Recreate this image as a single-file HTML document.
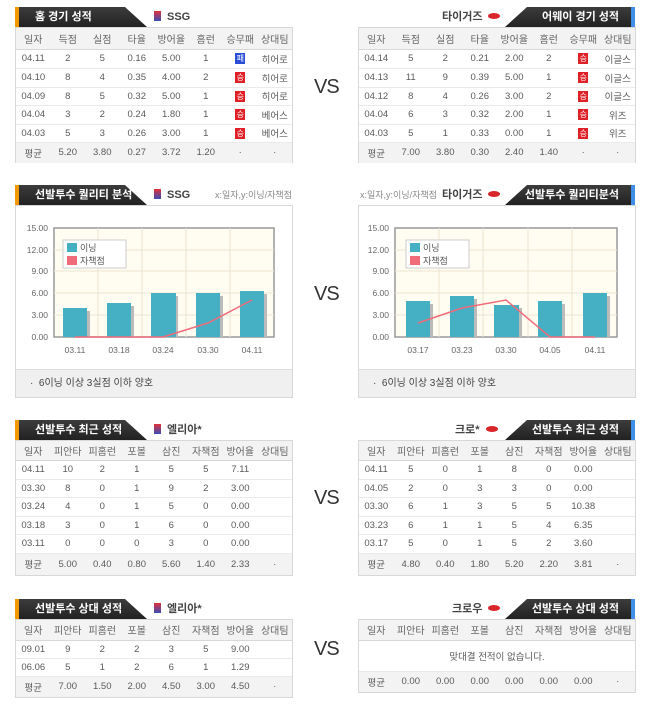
<!DOCTYPE html>
<html><head><meta charset="utf-8"><style>
*{margin:0;padding:0;box-sizing:border-box}
body{width:650px;height:716px;background:#fff;position:relative;font-family:"Liberation Sans","Noto Sans CJK KR",sans-serif;color:#444;overflow:hidden}
.tab{position:absolute;height:20px;background:linear-gradient(#3c3c3c,#222);color:#fff;font-size:11px;font-weight:bold;line-height:20px}
.tl{clip-path:polygon(0 0,calc(100% - 22px) 0,100% 100%,0 100%);border-left:4px solid #f39800;padding-left:16px}
.tr{clip-path:polygon(22px 0,100% 0,100% 100%,0 100%);border-right:4px solid #3f8fe8;text-align:right;padding-right:12px}
.team{position:absolute;font-size:11px;font-weight:bold;color:#444;line-height:20px}
.logo{display:inline-block;width:7px;height:10px;background:linear-gradient(#e0313a,#3a4db8);vertical-align:-1px;margin-right:6px}
.kia{display:inline-block;width:12px;height:6px;border-radius:50%;background:#d9262b;vertical-align:1px;margin-left:6px}
.box{position:absolute;border:1px solid #d8d8d8;background:#fff}
table{border-collapse:collapse;width:100%;table-layout:fixed;font-size:9.5px;color:#5a5a5a;text-align:center}
td{border-bottom:1px solid #eaeaea;white-space:nowrap;overflow:hidden}
tr.h td{background:#f3f3f3;border-bottom:1px solid #d8d8d8;font-size:10px;color:#666}
tr.a td{background:#f3f3f3;border-bottom:none}
.w{display:inline-block;width:10px;height:11px;background:#e02027;color:#fff;font-size:8px;line-height:11px}
.l{display:inline-block;width:10px;height:11px;background:#2a4fd6;color:#fff;font-size:8px;line-height:11px}
.vs{position:absolute;font-size:20px;color:#333;letter-spacing:-1px}
.foot{position:absolute;left:0;right:0;bottom:0;height:28px;background:#f0f0f0;border-top:1px solid #ddd;font-size:10px;line-height:28px;padding-left:14px;color:#444}
</style></head><body>

<div class="tab tl" style="left:15px;top:7px;width:132px">홈 경기 성적</div>
<div class="team" style="left:154px;top:7px"><span class="logo"></span>SSG</div>
<div class="box" style="left:15px;top:27px;width:278px;height:136px">
<table>
<tr class="h" style="height:21px"><td>일자</td><td>득점</td><td>실점</td><td>타율</td><td>방어율</td><td>홈런</td><td>승무패</td><td>상대팀</td></tr>
<tr style="height:19px"><td>04.11</td><td>2</td><td>5</td><td>0.16</td><td>5.00</td><td>1</td><td><span class="l">패</span></td><td>히어로</td></tr>
<tr style="height:19px"><td>04.10</td><td>8</td><td>4</td><td>0.35</td><td>4.00</td><td>2</td><td><span class="w">승</span></td><td>히어로</td></tr>
<tr style="height:18px"><td>04.09</td><td>8</td><td>5</td><td>0.32</td><td>5.00</td><td>1</td><td><span class="w">승</span></td><td>히어로</td></tr>
<tr style="height:19px"><td>04.04</td><td>3</td><td>2</td><td>0.24</td><td>1.80</td><td>1</td><td><span class="w">승</span></td><td>베어스</td></tr>
<tr style="height:18px"><td>04.03</td><td>5</td><td>3</td><td>0.26</td><td>3.00</td><td>1</td><td><span class="w">승</span></td><td>베어스</td></tr>
<tr class="a" style="height:21px"><td>평균</td><td>5.20</td><td>3.80</td><td>0.27</td><td>3.72</td><td>1.20</td><td>·</td><td>·</td></tr>
</table></div>
<div class="vs" style="left:314px;top:76px">VS</div>
<div class="tab tr" style="left:505px;top:7px;width:130px">어웨이 경기 성적</div>
<div class="team" style="left:442px;top:7px">타이거즈<span class="kia"></span></div>
<div class="box" style="left:358px;top:27px;width:278px;height:136px">
<table>
<tr class="h" style="height:21px"><td>일자</td><td>득점</td><td>실점</td><td>타율</td><td>방어율</td><td>홈런</td><td>승무패</td><td>상대팀</td></tr>
<tr style="height:19px"><td>04.14</td><td>5</td><td>2</td><td>0.21</td><td>2.00</td><td>2</td><td><span class="w">승</span></td><td>이글스</td></tr>
<tr style="height:19px"><td>04.13</td><td>11</td><td>9</td><td>0.39</td><td>5.00</td><td>1</td><td><span class="w">승</span></td><td>이글스</td></tr>
<tr style="height:18px"><td>04.12</td><td>8</td><td>4</td><td>0.26</td><td>3.00</td><td>2</td><td><span class="w">승</span></td><td>이글스</td></tr>
<tr style="height:19px"><td>04.04</td><td>6</td><td>3</td><td>0.32</td><td>2.00</td><td>1</td><td><span class="w">승</span></td><td>위즈</td></tr>
<tr style="height:18px"><td>04.03</td><td>5</td><td>1</td><td>0.33</td><td>0.00</td><td>1</td><td><span class="w">승</span></td><td>위즈</td></tr>
<tr class="a" style="height:21px"><td>평균</td><td>7.00</td><td>3.80</td><td>0.30</td><td>2.40</td><td>1.40</td><td>·</td><td>·</td></tr>
</table></div>

<div class="tab tl" style="left:15px;top:185px;width:132px">선발투수 퀄리티 분석</div>
<div class="team" style="left:154px;top:185px"><span class="logo"></span>SSG</div>
<div style="position:absolute;left:215px;top:185px;font-size:9px;color:#888;line-height:20px">x:일자,y:이닝/자책점</div>
<div class="box" style="left:15px;top:205px;width:278px;height:193px"><div class="foot">· &nbsp;6이닝 이상 3실점 이하 양호</div></div>
<svg style="position:absolute;left:0;top:200px" width="325" height="170">
<rect x="54" y="28" width="220" height="109" fill="#fffcf2" stroke="#999" stroke-width="1.5"/>
<g stroke="#eee4cf" stroke-width="1"><line x1="54" y1="50" x2="274" y2="50"/><line x1="54" y1="71" x2="274" y2="71"/><line x1="54" y1="93" x2="274" y2="93"/><line x1="54" y1="115" x2="274" y2="115"/><line x1="98" y1="28" x2="98" y2="137"/><line x1="142" y1="28" x2="142" y2="137"/><line x1="186" y1="28" x2="186" y2="137"/><line x1="230" y1="28" x2="230" y2="137"/></g>
<g fill="#bbb"><rect x="66" y="111" width="24" height="26"/><rect x="110" y="106" width="24" height="31"/><rect x="154" y="96" width="24" height="41"/><rect x="199" y="96" width="24" height="41"/><rect x="243" y="94" width="24" height="43"/></g>
<g fill="#45afc4"><rect x="63" y="108" width="24" height="29"/><rect x="107" y="103" width="24" height="34"/><rect x="151" y="93" width="25" height="44"/><rect x="196" y="93" width="24" height="44"/><rect x="240" y="91" width="24" height="46"/></g>
<polyline points="75,137 119,137 163,137 208,123 252,100" fill="none" stroke="#f06c7a" stroke-width="1.5"/>
<rect x="63" y="40" width="63" height="28" fill="#fff" stroke="#ccc"/>
<rect x="67" y="43" width="10" height="9" fill="#45afc4"/><rect x="67" y="56" width="10" height="9" fill="#f06c7a"/>
<text x="80" y="51" font-size="9" fill="#555">이닝</text><text x="80" y="64" font-size="9" fill="#555">자책점</text>
<g font-size="8.5" fill="#666" text-anchor="end"><text x="48" y="31">15.00</text><text x="48" y="53">12.00</text><text x="48" y="74">9.00</text><text x="48" y="96">6.00</text><text x="48" y="118">3.00</text><text x="48" y="140">0.00</text></g>
<g font-size="8.5" fill="#666" text-anchor="middle"><text x="75" y="153">03.11</text><text x="119" y="153">03.18</text><text x="163" y="153">03.24</text><text x="208" y="153">03.30</text><text x="252" y="153">04.11</text></g>
</svg>
<div class="vs" style="left:314px;top:283px">VS</div>
<div class="tab tr" style="left:505px;top:185px;width:130px">선발투수 퀄리티분석</div>
<div class="team" style="left:442px;top:185px">타이거즈<span class="kia"></span></div>
<div style="position:absolute;left:360px;top:185px;font-size:9px;color:#888;line-height:20px">x:일자,y:이닝/자책점</div>
<div class="box" style="left:358px;top:205px;width:278px;height:193px"><div class="foot">· &nbsp;6이닝 이상 3실점 이하 양호</div></div>
<svg style="position:absolute;left:325px;top:200px" width="325" height="170">
<rect x="70" y="28" width="222" height="109" fill="#fffcf2" stroke="#999" stroke-width="1.5"/>
<g stroke="#eee4cf" stroke-width="1"><line x1="70" y1="50" x2="292" y2="50"/><line x1="70" y1="71" x2="292" y2="71"/><line x1="70" y1="93" x2="292" y2="93"/><line x1="70" y1="115" x2="292" y2="115"/><line x1="114" y1="28" x2="114" y2="137"/><line x1="158" y1="28" x2="158" y2="137"/><line x1="203" y1="28" x2="203" y2="137"/><line x1="247" y1="28" x2="247" y2="137"/></g>
<g fill="#bbb"><rect x="84" y="104" width="24" height="33"/><rect x="128" y="99" width="24" height="38"/><rect x="172" y="108" width="25" height="29"/><rect x="216" y="104" width="24" height="33"/><rect x="261" y="96" width="24" height="41"/></g>
<g fill="#45afc4"><rect x="81" y="101" width="24" height="36"/><rect x="125" y="96" width="24" height="41"/><rect x="169" y="105" width="25" height="32"/><rect x="213" y="101" width="24" height="36"/><rect x="258" y="93" width="24" height="44"/></g>
<polyline points="93,123 137,108 181,100 225,137 270,137" fill="none" stroke="#f06c7a" stroke-width="1.5"/>
<rect x="81" y="40" width="63" height="28" fill="#fff" stroke="#ccc"/>
<rect x="85" y="43" width="10" height="9" fill="#45afc4"/><rect x="85" y="56" width="10" height="9" fill="#f06c7a"/>
<text x="98" y="51" font-size="9" fill="#555">이닝</text><text x="98" y="64" font-size="9" fill="#555">자책점</text>
<g font-size="8.5" fill="#666" text-anchor="end"><text x="64" y="31">15.00</text><text x="64" y="53">12.00</text><text x="64" y="74">9.00</text><text x="64" y="96">6.00</text><text x="64" y="118">3.00</text><text x="64" y="140">0.00</text></g>
<g font-size="8.5" fill="#666" text-anchor="middle"><text x="93" y="153">03.17</text><text x="137" y="153">03.23</text><text x="181" y="153">03.30</text><text x="225" y="153">04.05</text><text x="270" y="153">04.11</text></g>
</svg>

<div class="tab tl" style="left:15px;top:420px;width:132px">선발투수 최근 성적</div>
<div class="team" style="left:154px;top:420px"><span class="logo"></span>엘리아*</div>
<div class="box" style="left:15px;top:440px;width:278px;height:136px">
<table>
<tr class="h" style="height:19px"><td>일자</td><td>피안타</td><td>피홈런</td><td>포볼</td><td>삼진</td><td>자책점</td><td>방어율</td><td>상대팀</td></tr>
<tr style="height:19px"><td>04.11</td><td>10</td><td>2</td><td>1</td><td>5</td><td>5</td><td>7.11</td><td></td></tr>
<tr style="height:18px"><td>03.30</td><td>8</td><td>0</td><td>1</td><td>9</td><td>2</td><td>3.00</td><td></td></tr>
<tr style="height:19px"><td>03.24</td><td>4</td><td>0</td><td>1</td><td>5</td><td>0</td><td>0.00</td><td></td></tr>
<tr style="height:18px"><td>03.18</td><td>3</td><td>0</td><td>1</td><td>6</td><td>0</td><td>0.00</td><td></td></tr>
<tr style="height:19px"><td>03.11</td><td>0</td><td>0</td><td>0</td><td>3</td><td>0</td><td>0.00</td><td></td></tr>
<tr class="a" style="height:22px"><td>평균</td><td>5.00</td><td>0.40</td><td>0.80</td><td>5.60</td><td>1.40</td><td>2.33</td><td>·</td></tr>
</table></div>
<div class="vs" style="left:314px;top:487px">VS</div>
<div class="tab tr" style="left:505px;top:420px;width:130px">선발투수 최근 성적</div>
<div class="team" style="left:455px;top:420px">크로*<span class="kia"></span></div>
<div class="box" style="left:358px;top:440px;width:278px;height:136px">
<table>
<tr class="h" style="height:19px"><td>일자</td><td>피안타</td><td>피홈런</td><td>포볼</td><td>삼진</td><td>자책점</td><td>방어율</td><td>상대팀</td></tr>
<tr style="height:19px"><td>04.11</td><td>5</td><td>0</td><td>1</td><td>8</td><td>0</td><td>0.00</td><td></td></tr>
<tr style="height:18px"><td>04.05</td><td>2</td><td>0</td><td>3</td><td>3</td><td>0</td><td>0.00</td><td></td></tr>
<tr style="height:19px"><td>03.30</td><td>6</td><td>1</td><td>3</td><td>5</td><td>5</td><td>10.38</td><td></td></tr>
<tr style="height:18px"><td>03.23</td><td>6</td><td>1</td><td>1</td><td>5</td><td>4</td><td>6.35</td><td></td></tr>
<tr style="height:19px"><td>03.17</td><td>5</td><td>0</td><td>1</td><td>5</td><td>2</td><td>3.60</td><td></td></tr>
<tr class="a" style="height:22px"><td>평균</td><td>4.80</td><td>0.40</td><td>1.80</td><td>5.20</td><td>2.20</td><td>3.81</td><td>·</td></tr>
</table></div>

<div class="tab tl" style="left:15px;top:599px;width:132px">선발투수 상대 성적</div>
<div class="team" style="left:154px;top:599px"><span class="logo"></span>엘리아*</div>
<div class="box" style="left:15px;top:619px;width:278px;height:79px">
<table>
<tr class="h" style="height:20px"><td>일자</td><td>피안타</td><td>피홈런</td><td>포볼</td><td>삼진</td><td>자책점</td><td>방어율</td><td>상대팀</td></tr>
<tr style="height:18px"><td>09.01</td><td>9</td><td>2</td><td>2</td><td>3</td><td>5</td><td>9.00</td><td></td></tr>
<tr style="height:18px"><td>06.06</td><td>5</td><td>1</td><td>2</td><td>6</td><td>1</td><td>1.29</td><td></td></tr>
<tr class="a" style="height:21px"><td>평균</td><td>7.00</td><td>1.50</td><td>2.00</td><td>4.50</td><td>3.00</td><td>4.50</td><td>·</td></tr>
</table></div>
<div class="vs" style="left:314px;top:638px">VS</div>
<div class="tab tr" style="left:505px;top:599px;width:130px">선발투수 상대 성적</div>
<div class="team" style="left:452px;top:599px">크로우<span class="kia"></span></div>
<div class="box" style="left:358px;top:619px;width:278px;height:74px">
<table>
<tr class="h" style="height:20px"><td>일자</td><td>피안타</td><td>피홈런</td><td>포볼</td><td>삼진</td><td>자책점</td><td>방어율</td><td>상대팀</td></tr>
<tr style="height:31px"><td colspan="8">맞대결 전적이 없습니다.</td></tr>
<tr class="a" style="height:21px"><td>평균</td><td>0.00</td><td>0.00</td><td>0.00</td><td>0.00</td><td>0.00</td><td>0.00</td><td>·</td></tr>
</table></div>
</body></html>
